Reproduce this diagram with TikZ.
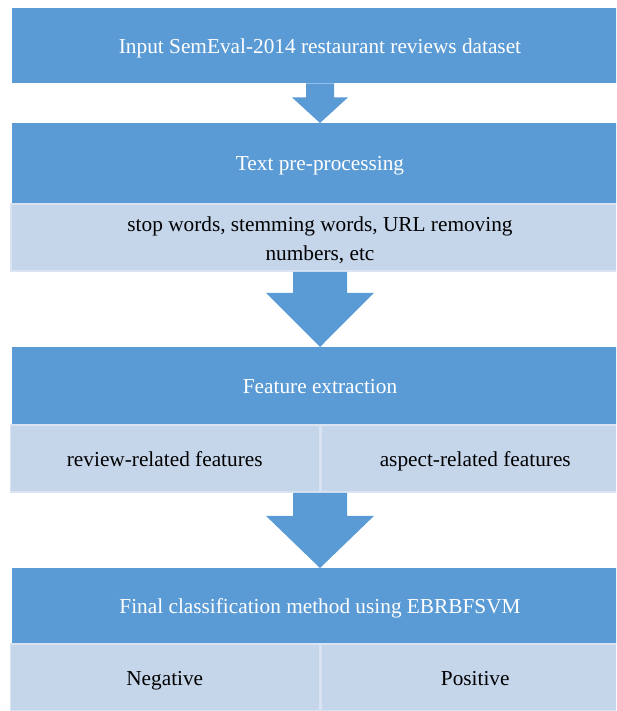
\documentclass[tikz,border=0pt]{standalone}
\usepackage{fontspec}
\setmainfont{Liberation Serif}
\usetikzlibrary{positioning,calc}
\definecolor{headblue}{HTML}{5B9BD5}
\definecolor{subblue}{HTML}{C5D5EA}
\definecolor{subedge}{HTML}{D9E3F2}
\tikzset{
  oneline/.style={text height=17pt,text depth=2pt},
  head/.style={fill=headblue,text=white,minimum width=616pt,inner sep=0pt,oneline,
    font=\fontsize{21.3}{29}\selectfont},
  sub/.style={fill=subblue,draw=subedge,line width=1.5pt,minimum height=67pt,
    inner sep=0pt,align=center,font=\fontsize{21.3}{29}\selectfont},
  flow/.style={fill=headblue}
}
\begin{document}
\begin{tikzpicture}[x=1pt,y=-1pt]
  \useasboundingbox (0,0) rectangle (616,711);
  \clip (0,0) rectangle (616,711);
  % steps
  \node[head,minimum height=75pt,anchor=north] (h1) at (320,8) {Input SemEval-2014 restaurant reviews dataset};
  \node[head,minimum height=80pt,anchor=north] (h2) at (320,123) {Text pre-processing};
  \node[sub,minimum width=618pt,anchor=north] (s2) at (h2.south) {\strut stop words, stemming words, URL removing\\numbers, etc};
  \node[head,minimum height=77pt,anchor=north] (h3) at (320,347) {Feature extraction};
  \node[sub,oneline,minimum width=309pt,anchor=north east] (s3l) at (h3.south) {review-related features};
  \node[sub,oneline,minimum width=309pt,anchor=north west] (s3r) at (h3.south) {aspect-related features};
  \node[head,minimum height=75pt,anchor=north] (h4) at (320,568) {Final classification method using EBRBFSVM};
  \node[sub,oneline,minimum width=309pt,anchor=north east] (s4l) at (h4.south) {Negative};
  \node[sub,oneline,minimum width=309pt,anchor=north west] (s4r) at (h4.south) {Positive};
  % block arrows
  \foreach \a/\b/\s/\h/\l in {h1.south/h2.north/14/28/14,s2.south/h3.north/27/54/21,s3l.south east/h4.north/27/54/23} {
    \fill[flow] ($(\a)+(-\s,0)$) -- ($(\a)+(-\s,\l)$) -- ($(\a)+(-\h,\l)$) -- (\b)
      -- ($(\a)+(\h,\l)$) -- ($(\a)+(\s,\l)$) -- ($(\a)+(\s,0)$) -- cycle;
  }
\end{tikzpicture}
\end{document}
